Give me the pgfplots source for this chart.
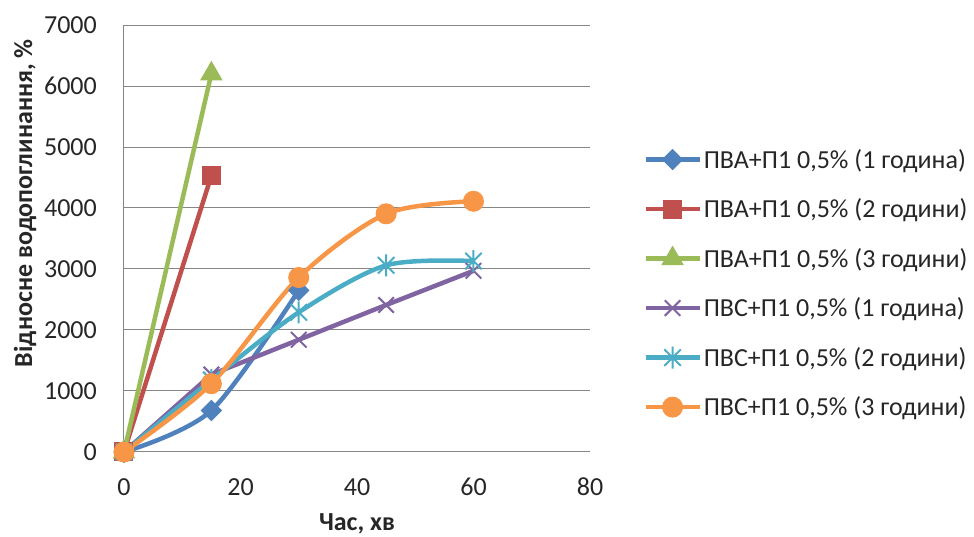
\documentclass[border=0pt]{standalone}
\usepackage{fontspec}
\setmainfont{Carlito}
\usepackage{pgfplots}
\pgfplotsset{compat=1.18}
\definecolor{c1}{HTML}{4F81BD}
\definecolor{c2}{HTML}{C0504D}
\definecolor{c3}{HTML}{9BBB59}
\definecolor{c4}{HTML}{8064A2}
\definecolor{c5}{HTML}{4BACC6}
\definecolor{c6}{HTML}{F79646}
\definecolor{gridc}{HTML}{868686}
\pgfdeclareplotmark{exdiamond}{%
  \pgfpathmoveto{\pgfqpoint{0pt}{\pgfplotmarksize}}%
  \pgfpathlineto{\pgfqpoint{\pgfplotmarksize}{0pt}}%
  \pgfpathlineto{\pgfqpoint{0pt}{-\pgfplotmarksize}}%
  \pgfpathlineto{\pgfqpoint{-\pgfplotmarksize}{0pt}}%
  \pgfpathclose\pgfusepathqfillstroke}
\pgfdeclareplotmark{xstar}{%
  \pgfpathmoveto{\pgfqpoint{0pt}{\pgfplotmarksize}}%
  \pgfpathlineto{\pgfqpoint{0pt}{-\pgfplotmarksize}}%
  \pgfpathmoveto{\pgfqpoint{-0.75\pgfplotmarksize}{-0.75\pgfplotmarksize}}%
  \pgfpathlineto{\pgfqpoint{0.75\pgfplotmarksize}{0.75\pgfplotmarksize}}%
  \pgfpathmoveto{\pgfqpoint{-0.75\pgfplotmarksize}{0.75\pgfplotmarksize}}%
  \pgfpathlineto{\pgfqpoint{0.75\pgfplotmarksize}{-0.75\pgfplotmarksize}}%
  \pgfusepathqstroke}
\begin{document}
\begin{tikzpicture}
\path[use as bounding box] (-124pt,-85pt) rectangle (850pt,452pt);
\begin{axis}[
  at={(0pt,0pt)}, anchor=south west,
  scale only axis, width=466pt, height=427pt,
  xmin=0, xmax=80, ymin=0, ymax=7000,
  xtick={0,20,...,80}, ytick={0,1000,...,7000},
  axis x line*=bottom, axis y line*=left,
  x axis line style={draw=none},
  y axis line style={draw=gridc, line width=1pt, -},
  ymajorgrids, major grid style={draw=gridc, line width=1pt},
  major tick length=0pt,
  /pgf/number format/assume math mode=true,
  /pgf/number format/1000 sep={},
  tick label style={font=\fontsize{26}{30}\selectfont, text=black!85},
  xticklabel style={anchor=north, inner sep=0pt, yshift=-26pt},
  yticklabel style={anchor=east, inner sep=0pt, xshift=-27pt},
  xlabel={\bfseries Час, хв},
  ylabel={\bfseries Відносне водопоглинання, \%},
  label style={font=\fontsize{26}{30}\selectfont, text=black!85},
  xlabel style={at={(axis description cs:0.5,-0.168)}, anchor=center},
  ylabel style={at={(axis description cs:-0.2124,0.583)}, anchor=center},
  legend style={at={(axis description cs:1.114,0.395)}, anchor=west,
    draw=none, fill=none, inner sep=0pt, row sep=25pt,
    font=\fontsize{26}{30}\selectfont, text=black!85,
    nodes={inner sep=2pt}},
  legend cell align=left,
  legend image code/.code={\draw[mark repeat=2,mark phase=2] plot coordinates {(0pt,0pt) (27pt,0pt) (54pt,0pt)};},
]
\addplot[color=c1, line width=4.5pt, smooth, mark=exdiamond, mark size=10pt, mark options={solid, line width=1pt, fill=c1}]
  coordinates {(0,0) (15,680) (30,2650)};
\addlegendentry{ПВА+П1 0,5\% (1 година)}
\addplot[color=c2, line width=4.5pt, mark=square*, mark size=9pt, mark options={solid, line width=1pt, fill=c2}]
  coordinates {(0,0) (15,4530)};
\addlegendentry{ПВА+П1 0,5\% (2 години)}
\addplot[color=c3, line width=4.5pt, mark=triangle*, mark size=12pt, mark options={solid, line width=1pt, fill=c3}]
  coordinates {(0,0) (15,6200)};
\addlegendentry{ПВА+П1 0,5\% (3 години)}
\addplot[color=c4, line width=4.5pt, mark=x, mark size=11pt, mark options={solid, line width=2pt}]
  coordinates {(0,0) (15,1270) (30,1840) (45,2410) (60,2970)};
\addlegendentry{ПВС+П1 0,5\% (1 година)}
\addplot[color=c5, line width=4.5pt, smooth, mark=xstar, mark size=11pt, mark options={solid, line width=2pt}]
  coordinates {(0,0) (15,1180) (30,2290) (45,3060) (60,3130)};
\addlegendentry{ПВС+П1 0,5\% (2 години)}
\addplot[color=c6, line width=4.5pt, smooth, mark=*, mark size=10pt, mark options={solid, line width=1pt, fill=c6}]
  coordinates {(0,0) (15,1120) (30,2860) (45,3905) (60,4110)};
\addlegendentry{ПВС+П1 0,5\% (3 години)}
\end{axis}
\end{tikzpicture}
\end{document}
